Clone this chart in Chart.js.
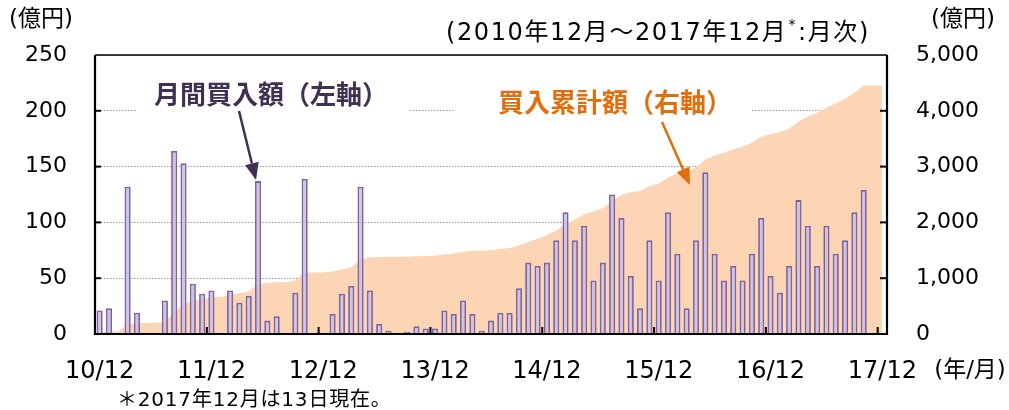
<!DOCTYPE html>
<html>
<head>
<meta charset="utf-8">
<script src="https://cdn.jsdelivr.net/npm/chart.js@4.4.1/dist/chart.umd.min.js"></script>
<style>
  body { margin: 0; background: #fff; }
</style>
</head>
<body>
<canvas id="chart" width="1009" height="410"></canvas>
<script>
// 2010/12 - 2017/12, monthly (null = no purchase that month)
const monthlyBuy = [
  21, 23, null, 132, 19, null, null, 30, 164, 153, 45, 36,
  39, null, 39, 28, 34, 137, 12, 16, null, 37, 139, null,
  null, 18, 36, 43, 132, 39, 9, 3, null, 2, 7, 5,
  5, 21, 18, 30, 18, 3, 12, 19, 19, 41, 64, 61,
  64, 84, 109, 84, 97, 48, 64, 125, 104, 52, 23, 84,
  48, 109, 72, 23, 84, 145, 72, 48, 61, 48, 72, 104,
  52, 37, 61, 120, 97, 61, 97, 72, 84, 109, 129, null,
  null
];
const cumulativeBuy = [
  21, 44, 44, 176, 195, 195, 195, 225, 389, 542, 587, 623,
  662, 662, 701, 729, 763, 900, 912, 928, 928, 965, 1104, 1104,
  1104, 1122, 1158, 1201, 1333, 1372, 1381, 1384, 1384, 1386, 1393, 1398,
  1403, 1424, 1442, 1472, 1490, 1493, 1505, 1524, 1543, 1584, 1648, 1709,
  1773, 1857, 1966, 2050, 2147, 2195, 2259, 2384, 2488, 2540, 2563, 2647,
  2695, 2804, 2876, 2899, 2983, 3128, 3200, 3248, 3309, 3357, 3429, 3533,
  3585, 3622, 3683, 3803, 3900, 3961, 4058, 4130, 4214, 4323, 4452, 4452,
  4452
];
const leftTicks = [0, 50, 100, 150, 200, 250];
const rightTicks = [0, 1000, 2000, 3000, 4000, 5000];

// month categories "yy/mm"
const months = [];
let yy = 10, mm = 12;
for (let i = 0; i < monthlyBuy.length; i++) {
  months.push(String(yy).padStart(2, "0") + "/" + String(mm).padStart(2, "0"));
  mm++;
  if (mm > 12) { mm = 1; yy++; }
}

const latin = "'DejaVu Sans', 'Noto Sans CJK JP', sans-serif";
const jp = "'Noto Sans CJK JP', sans-serif";

const decor = {
  id: "decor",
  afterDatasetsDraw(chart) {
    const ctx = chart.ctx;
    const { left, right, top, bottom } = chart.chartArea;
    const xs = chart.scales.x, ys = chart.scales.y;
    ctx.save();

    // frame
    ctx.strokeStyle = "#000";
    ctx.lineWidth = 1.5;
    ctx.beginPath();
    ctx.moveTo(left, top); ctx.lineTo(right, top);
    ctx.stroke();
    ctx.lineWidth = 2.2;
    ctx.beginPath();
    ctx.moveTo(left, top); ctx.lineTo(left, bottom); ctx.lineTo(right, bottom); ctx.lineTo(right, top);
    ctx.stroke();

    // inward tick marks
    ctx.lineWidth = 2;
    leftTicks.slice(1, -1).forEach((v) => {
      const y = ys.getPixelForValue(v);
      ctx.beginPath(); ctx.moveTo(left, y); ctx.lineTo(left + 6, y); ctx.stroke();
      ctx.beginPath(); ctx.moveTo(right - 7, y); ctx.lineTo(right, y); ctx.stroke();
    });
    const step = xs.getPixelForValue(1) - xs.getPixelForValue(0);
    months.forEach((m, i) => {
      if (!m.endsWith("/12") || i === 0) return;
      const x = xs.getPixelForValue(i) - step / 2;
      ctx.beginPath(); ctx.moveTo(x, bottom); ctx.lineTo(x, bottom - 7); ctx.stroke();
    });

    // label backgrounds over the 200 gridline
    ctx.fillStyle = "#fff";
    ctx.fillRect(137, 103, 272, 16);
    ctx.fillRect(454, 103, 298, 16);

    // series labels
    ctx.textBaseline = "middle";
    ctx.textAlign = "left";
    ctx.font = "bold 26px " + jp;
    ctx.fillStyle = "#403152";
    ctx.fillText("月間買入額（左軸）", 154, 94);
    ctx.fillStyle = "#E46C0A";
    ctx.fillText("買入累計額（右軸）", 498, 102);

    // arrows
    arrow(ctx, 239, 111, 256, 180, "#403152");
    arrow(ctx, 662, 122, 690, 185, "#E46C0A");

    // titles and units
    ctx.fillStyle = "#000";
    ctx.textAlign = "center";
    ctx.font = "23px " + latin;
    ctx.fillText("(億円)", 41, 20);
    ctx.fillText("(億円)", 963, 20);
    ctx.fillText("(年/月)", 970, 371);

    ctx.textAlign = "left";
    ctx.letterSpacing = "1.6px";
    ctx.font = "24px " + latin;
    let x = 446;
    const part1 = "(2010年12月～2017年12月";
    ctx.fillText(part1, x, 34);
    x += ctx.measureText(part1).width;
    ctx.font = "14px " + latin;
    ctx.fillText("*", x + 1, 25);
    x += ctx.measureText("*").width + 2;
    ctx.font = "24px " + latin;
    ctx.fillText(":月次)", x, 34);

    ctx.letterSpacing = "0.8px";
    ctx.font = "20px " + latin;
    ctx.fillText("＊2017年12月は13日現在。", 117, 401);
    ctx.letterSpacing = "0px";
    ctx.restore();
  },
};

function arrow(ctx, x1, y1, x2, y2, color) {
  const ang = Math.atan2(y2 - y1, x2 - x1);
  const len = 17, half = 7;
  const bx = x2 - len * Math.cos(ang), by = y2 - len * Math.sin(ang);
  ctx.strokeStyle = color;
  ctx.fillStyle = color;
  ctx.lineWidth = 2.5;
  ctx.beginPath(); ctx.moveTo(x1, y1); ctx.lineTo(bx, by); ctx.stroke();
  ctx.beginPath();
  ctx.moveTo(x2, y2);
  ctx.lineTo(bx + half * Math.sin(ang), by - half * Math.cos(ang));
  ctx.lineTo(bx - half * Math.sin(ang), by + half * Math.cos(ang));
  ctx.closePath();
  ctx.fill();
}

new Chart(document.getElementById("chart").getContext("2d"), {
  data: {
    labels: months,
    datasets: [
      {
        type: "bar",
        data: monthlyBuy,
        yAxisID: "y",
        backgroundColor: "#CFC5DF",
        borderColor: "#8064A2",
        borderWidth: 1.8,
        barPercentage: 0.66,
        categoryPercentage: 1,
        order: 1,
      },
      {
        type: "line",
        data: cumulativeBuy,
        yAxisID: "y1",
        fill: "origin",
        backgroundColor: "#FCD5B5",
        borderWidth: 0,
        pointRadius: 0,
        tension: 0,
        order: 2,
      },
    ],
  },
  options: {
    responsive: false,
    animation: false,
    layout: { padding: { top: 55, left: 0, right: 0, bottom: 0 } },
    plugins: { legend: { display: false }, tooltip: { enabled: false } },
    scales: {
      x: {
        type: "category",
        offset: true,
        grid: { display: false },
        border: { display: false },
        ticks: {
          autoSkip: false,
          maxRotation: 0,
          minRotation: 0,
          padding: 15,
          color: "#000",
          font: { family: latin, size: 24 },
          callback: function (value) {
            const lab = this.getLabelForValue(value);
            return lab.endsWith("/12") ? lab : "";
          },
        },
        afterFit: (s) => { s.height = 76; },
      },
      y: {
        position: "left",
        min: 0,
        max: 250,
        afterBuildTicks: (s) => { s.ticks = leftTicks.map((v) => ({ value: v })); },
        grid: { color: "#999", lineWidth: 1, drawTicks: false },
        border: { display: false, dash: [1.5, 1.5] },
        ticks: { padding: 28, color: "#000", font: { family: latin, size: 22 } },
        afterFit: (s) => { s.width = 95; },
      },
      y1: {
        position: "right",
        min: 0,
        max: 5000,
        afterBuildTicks: (s) => { s.ticks = rightTicks.map((v) => ({ value: v })); },
        grid: { display: false, drawTicks: false },
        border: { display: false },
        ticks: {
          padding: 29,
          color: "#000",
          font: { family: latin, size: 22 },
          callback: (v) => v.toLocaleString("en-US"),
        },
        afterFit: (s) => { s.width = 122; },
      },
    },
  },
  plugins: [decor],
});
</script>
</body>
</html>
